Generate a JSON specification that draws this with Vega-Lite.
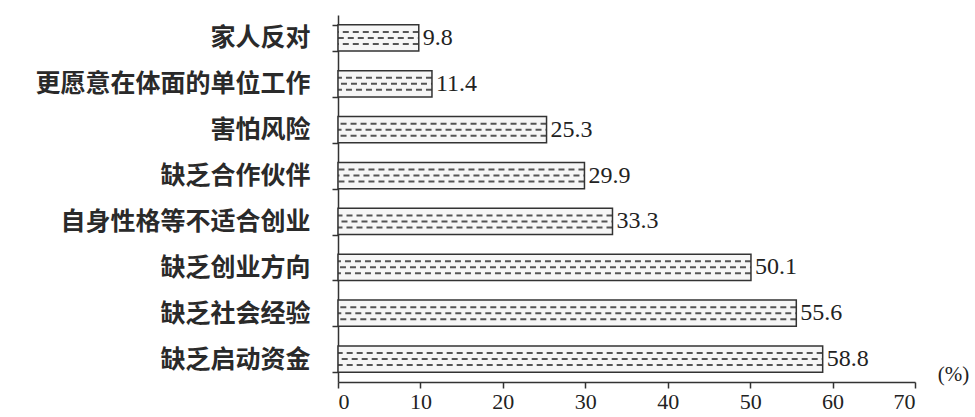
{
  "$schema": "https://vega.github.io/schema/vega-lite/v6.json",
  "width": 577,
  "height": 367,
  "autosize": {"type": "none"},
  "padding": {"left": 338, "top": 15, "right": 60, "bottom": 35},
  "background": "white",
  "config": {"view": {"stroke": null}},
  "data": {
    "values": [
      {"reason": "家人反对", "pct": 9.8},
      {"reason": "更愿意在体面的单位工作", "pct": 11.4},
      {"reason": "害怕风险", "pct": 25.3},
      {"reason": "缺乏合作伙伴", "pct": 29.9},
      {"reason": "自身性格等不适合创业", "pct": 33.3},
      {"reason": "缺乏创业方向", "pct": 50.1},
      {"reason": "缺乏社会经验", "pct": 55.6},
      {"reason": "缺乏启动资金", "pct": 58.8}
    ]
  },
  "encoding": {
    "y": {
      "field": "reason",
      "type": "nominal",
      "sort": {"field": "pct", "order": "ascending"},
      "scale": {"paddingInner": 0.43, "paddingOuter": 0.215},
      "axis": {
        "title": null,
        "tickBand": "extent",
        "tickSize": 6,
        "tickColor": "#333",
        "tickWidth": 1.5,
        "domainColor": "#333",
        "domainWidth": 1.5,
        "labelPadding": 22,
        "labelLimit": 400,
        "labelFont": "Noto Sans CJK SC",
        "labelFontWeight": "bold",
        "labelFontSize": 25,
        "labelColor": "#2a2a2a"
      }
    }
  },
  "layer": [
    {
      "mark": {"type": "bar", "fill": "#f6f6f6", "strokeOpacity": 0},
      "encoding": {
        "x": {
          "field": "pct",
          "type": "quantitative",
          "scale": {"domain": [0, 70], "nice": false},
          "axis": {
            "values": [0, 10, 20, 30, 40, 50, 60, 70],
            "grid": false,
            "tickSize": 6,
            "tickColor": "#333",
            "tickWidth": 1.5,
            "domainColor": "#333",
            "domainWidth": 1.5,
            "labelPadding": 3,
            "labelFont": "Liberation Serif",
            "labelFontSize": 22,
            "labelColor": "#222",
            "title": "(%)",
            "titleFont": "Liberation Serif",
            "titleFontSize": 21,
            "titleFontWeight": "normal",
            "titleColor": "#222",
            "titleX": 615,
            "titleY": -8,
            "titleAlign": "center",
            "titleBaseline": "middle",
            "titleAngle": 0
          }
        }
      }
    },
    {
      "mark": {"type": "rule", "yOffset": -6, "stroke": "#555", "strokeWidth": 2, "strokeDash": [6, 4]},
      "encoding": {"x": {"field": "pct", "type": "quantitative"}, "x2": {"datum": 0}}
    },
    {
      "mark": {"type": "rule", "yOffset": 0, "stroke": "#555", "strokeWidth": 2, "strokeDash": [6, 4], "strokeDashOffset": 5},
      "encoding": {"x": {"field": "pct", "type": "quantitative"}, "x2": {"datum": 0}}
    },
    {
      "mark": {"type": "rule", "yOffset": 6, "stroke": "#555", "strokeWidth": 2, "strokeDash": [6, 4]},
      "encoding": {"x": {"field": "pct", "type": "quantitative"}, "x2": {"datum": 0}}
    },
    {
      "mark": {"type": "bar", "fillOpacity": 0, "stroke": "#333", "strokeWidth": 1.5},
      "encoding": {"x": {"field": "pct", "type": "quantitative"}}
    },
    {
      "mark": {"type": "text", "align": "left", "baseline": "middle", "dx": 4, "font": "Liberation Serif", "fontSize": 24, "fill": "#222"},
      "encoding": {
        "x": {"field": "pct", "type": "quantitative"},
        "text": {"field": "pct", "type": "quantitative", "format": ".1f"}
      }
    }
  ]
}
